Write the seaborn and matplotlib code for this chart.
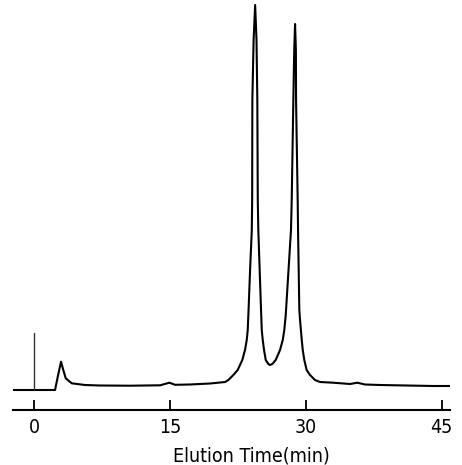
import matplotlib
matplotlib.use("Agg")
import matplotlib.pyplot as plt
import seaborn as sns
import pandas as pd

# Chromatogram trace (time in min, detector signal in arbitrary units)
time_min = [-2.39, 2.29, 2.59, 2.95, 3.20, 3.47, 4.13, 5.60, 7.26, 10.57, 13.9, 14.92, 15.55,
            17.2, 19.41, 20.52, 21.08, 21.44, 21.99, 22.47, 22.98, 23.28, 23.47, 23.58,
            23.65, 23.84, 24.03, 24.07, 24.09, 24.23, 24.40, 24.55, 24.64, 24.69, 24.75,
            25.05, 25.13, 25.24, 25.38, 25.57, 25.86, 26.04, 26.30, 26.67, 27.15, 27.45,
            27.62, 27.78, 28.36, 28.44, 28.62, 28.72, 28.81, 28.90, 28.92, 29.10, 29.14,
            29.28, 29.36, 29.55, 29.66, 29.83, 30.09, 30.46, 31.01, 31.56, 33.0, 34.9,
            35.68, 36.54, 38.2, 44.06, 45.93]
signal = [0, 0, 13.3, 28.3, 20, 11.7, 6.7, 5, 4.5, 4.3, 4.7, 7.3, 5.2,
          5.5, 6.5, 7.5, 8, 10, 15, 20, 30, 40, 50, 60,
          75, 120, 160, 190, 290, 350, 385, 350, 290, 190, 160,
          80, 60, 50, 40, 30, 26, 25, 26, 30, 40, 50,
          60, 75, 160, 190, 290, 340, 366, 340, 290, 190, 160,
          80, 70, 50, 40, 30, 20, 15, 10, 8, 7.3, 6,
          7.3, 5.5, 5, 4, 4]

inj_time = [0, 0]
inj_signal = [0, 57]

tick_values = [0, 15, 30, 45]
tick_labels = ["0", "15", "30", "45"]
x_label = "Elution Time(min)"

df = pd.DataFrame({"t": time_min, "s": signal})

sns.set_style("white")
plt.rcParams["font.family"] = ["DejaVu Sans"]
plt.rcParams["font.stretch"] = "condensed"
plt.rcParams["text.color"] = "black"
plt.rcParams["xtick.color"] = "black"
plt.rcParams["axes.labelcolor"] = "black"

fig = plt.figure(figsize=(4.62, 4.65), dpi=100)
ax = fig.add_axes([12.7 / 462, (465 - 410) / 465, (450 - 12.7) / 462, 410 / 465])

sns.lineplot(data=df, x="t", y="s", sort=False, estimator=None, color="black",
             linewidth=1.5, ax=ax)
ax.plot(inj_time, inj_signal, color="#333333", linewidth=1.0)

ax.set_xlim(-2.39, 45.93)
ax.set_ylim(-20, 390)
ax.set_xticks(tick_values)
ax.set_xticklabels(tick_labels, fontsize=14, fontstretch="condensed")
ax.set_yticks([])
ax.tick_params(axis="x", direction="in", length=7.5, width=1.3, pad=6, colors="black",
               bottom=True)
for side in ["top", "left", "right"]:
    ax.spines[side].set_visible(False)
ax.spines["bottom"].set_linewidth(1.5)
ax.spines["bottom"].set_color("black")
ax.set_ylabel("")
ax.set_xlabel(x_label, fontsize=14, fontstretch="condensed", color="black")
ax.xaxis.set_label_coords(0.545, -0.088)

fig.savefig("out.png", dpi=100)
